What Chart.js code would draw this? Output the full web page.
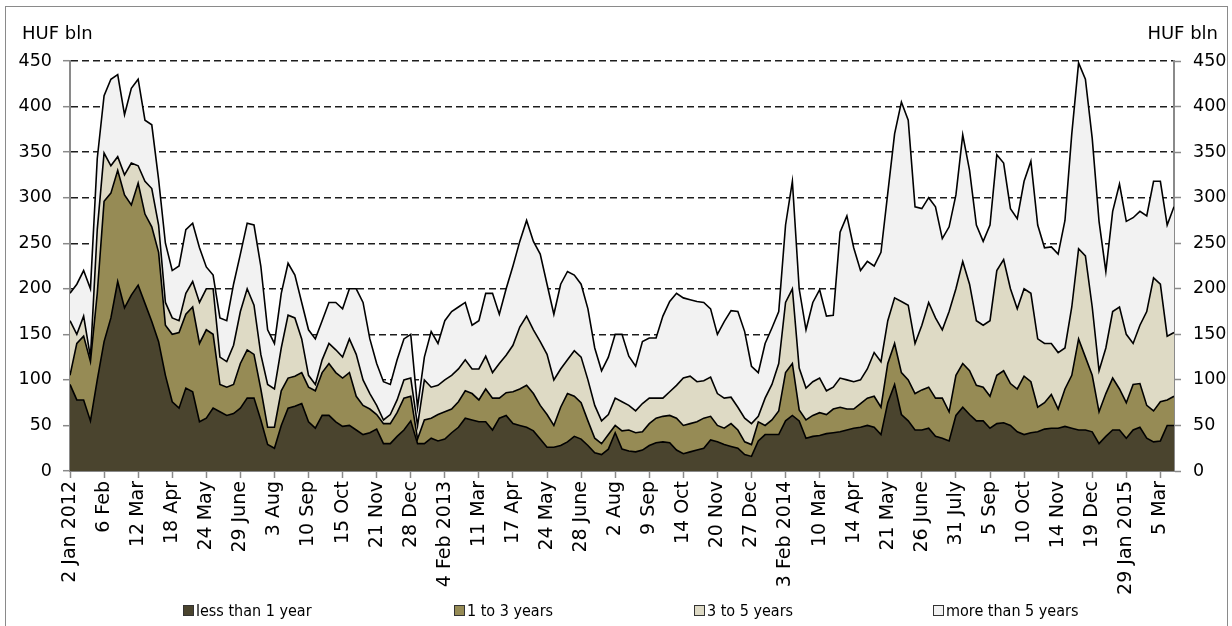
<!DOCTYPE html>
<html>
<head>
<meta charset="utf-8">
<script src="https://cdn.jsdelivr.net/npm/chart.js@4.4.1/dist/chart.umd.min.js"></script>
<style>
html,body{margin:0;padding:0;background:#fff;}
#wrap{position:relative;width:1232px;height:626px;overflow:hidden;font-family:"DejaVu Sans",sans-serif;}
#frame{position:absolute;left:5px;top:6px;width:1223px;height:660px;border:1.5px solid #8a8a8a;box-sizing:border-box;}
canvas{position:absolute;left:0;top:0;}
.unit{position:absolute;top:24px;font-size:18px;line-height:18px;color:#000;white-space:nowrap;}
.lg{position:absolute;top:602px;font-family:"DejaVu Sans Condensed","DejaVu Sans",sans-serif;font-size:16px;line-height:18px;color:#000;white-space:nowrap;}
.lg i{display:inline-block;width:9px;height:9px;border:1px solid #333;margin-right:2px;vertical-align:0px;}
</style>
</head>
<body>
<div id="wrap">
<div id="frame"></div>
<canvas id="c" width="1232" height="626"></canvas>
<div class="unit" style="left:22px">HUF bln</div>
<div class="unit" style="right:14px">HUF bln</div>
<div id="legend"></div>
</div>
<script>
// x-axis tick labels (one every 25 business days = every 5 points)
const tickLabels = ['2 Jan 2012','6 Feb','12 Mar','18 Apr','24 May','29 June','3 Aug','10 Sep','15 Oct','21 Nov','28 Dec',
  '4 Feb 2013','11 Mar','17 Apr','24 May','28 June','2 Aug','9 Sep','14 Oct','20 Nov','27 Dec',
  '3 Feb 2014','10 Mar','14 Apr','21 May','26 June','31 July','5 Sep','10 Oct','14 Nov','19 Dec',
  '29 Jan 2015','5 Mar'];

// series values (HUF bln), one point every 5 business days
const lessThan1Year = [
  95,78,78,55,100,142,168,208,179,193,
  204,184,164,142,105,76,69,91,87,54,
  58,69,65,61,63,69,80,80,56,29,
  25,50,69,71,74,54,47,61,61,54,
  49,50,45,40,42,46,30,30,38,45,
  55,30,30,36,33,35,42,48,58,56,
  54,54,45,58,61,52,50,48,44,35,
  26,26,28,32,38,35,28,20,18,24,
  42,24,22,21,23,28,31,32,31,23,
  19,21,23,25,34,32,29,27,25,18,
  16,33,40,40,40,55,61,55,36,38,
  39,41,42,43,45,47,48,50,48,40,
  75,95,62,55,45,45,47,38,36,33,
  61,70,62,55,55,47,52,53,50,43,
  40,42,43,46,47,47,49,47,45,45,
  43,30,38,45,45,36,45,48,36,32,
  33,50,50];
const oneToThreeYears = [
  10,62,70,65,95,154,137,122,124,99,
  112,98,104,98,55,74,83,81,93,86,
  97,81,30,31,32,49,53,48,34,19,
  23,38,33,33,34,38,41,47,57,54,
  53,58,37,32,26,16,22,22,26,35,
  27,5,26,22,29,30,26,28,30,29,
  24,36,35,22,25,35,40,46,41,37,
  36,24,42,53,44,40,27,16,12,16,
  8,20,23,21,20,24,27,28,30,35,
  31,31,31,33,26,18,18,25,20,14,
  13,21,10,16,26,53,57,12,20,23,
  25,21,26,27,23,21,26,30,34,30,
  43,45,46,45,40,44,45,42,44,32,
  44,48,48,39,37,35,53,57,46,47,
  64,56,27,29,37,21,41,58,100,80,
  62,35,47,57,45,39,50,48,36,34,
  43,28,32];
const threeToFiveYears = [
  60,10,22,5,70,53,30,15,22,46,
  19,36,42,30,25,18,13,23,28,45,
  45,50,30,28,43,57,67,54,38,47,
  42,47,69,64,37,13,7,14,22,25,
  23,37,46,28,17,10,4,10,14,20,
  20,15,44,34,32,35,37,36,34,27,
  34,36,28,38,41,51,68,76,70,70,
  66,50,42,37,50,50,45,36,25,22,
  30,32,27,24,31,28,22,20,26,36,
  52,52,44,41,43,35,33,29,25,26,
  23,6,30,39,52,77,82,46,35,37,
  38,26,24,32,32,30,26,32,48,50,
  47,50,78,82,55,71,93,88,75,110,
  95,112,95,71,68,83,115,122,104,88,
  96,97,75,65,56,62,45,75,99,111,
  75,45,50,73,90,75,45,64,103,146,
  129,70,70];
const moreThan5Years = [
  30,55,50,75,78,63,95,90,66,82,
  95,67,70,50,65,52,60,70,64,60,
  24,15,43,45,67,63,72,88,97,60,
  50,60,57,47,40,50,50,43,45,52,
  53,55,72,85,60,46,42,33,44,45,
  48,20,25,61,46,65,70,68,63,48,
  53,69,87,54,73,87,94,105,97,96,
  77,72,93,97,83,80,78,63,55,63,
  70,74,54,49,68,66,66,90,99,101,
  88,84,88,86,75,65,84,95,105,95,
  63,48,60,62,57,85,118,87,64,87,
  97,82,79,160,180,147,120,118,95,120,
  140,180,219,203,150,128,115,122,100,93,
  103,139,125,105,92,105,127,106,88,99,
  118,145,125,105,106,108,140,190,204,194,
  185,164,84,110,135,124,138,125,105,106,
  113,122,138];

const seriesNames = ['less than 1 year','1 to 3 years','3 to 5 years','more than 5 years'];
const seriesValues = [lessThan1Year, oneToThreeYears, threeToFiveYears, moreThan5Years];
const seriesColors = ['#4a442e','#968b55','#dedac5','#f2f2f2'];
const pointIndex = lessThan1Year.map((_, i) => i);

const tickFont = {family:'"DejaVu Sans", sans-serif', size:17.5};

const datasets = seriesValues.map((vals, k) => ({
  label: seriesNames[k],
  data: vals,
  backgroundColor: seriesColors[k],
  borderColor: '#000',
  borderWidth: 1.6,
  fill: k === 0 ? 'origin' : '-1',
  pointRadius: 0,
  tension: 0
}));

new Chart(document.getElementById('c'), {
  type: 'line',
  data: {labels: pointIndex, datasets},
  options: {
    responsive: false,
    animation: false,
    devicePixelRatio: 1,
    layout: {padding: {top: 61, left: 0, right: 0, bottom: 0}},
    plugins: {legend: {display: false}, tooltip: {enabled: false}},
    scales: {
      x: {
        type: 'linear',
        min: 0,
        max: pointIndex.length - 1,
        afterBuildTicks: s => { s.ticks = tickLabels.map((_, k) => ({value: k * 5})); },
        afterFit: s => { s.height = 155; },
        ticks: {
          autoSkip: false, minRotation: 90, maxRotation: 90, padding: 3, color: '#000',
          font: {family:'"DejaVu Sans", sans-serif', size: 19},
          callback: v => tickLabels[Math.round(v / 5)]
        },
        grid: {drawOnChartArea: false, drawTicks: true, tickLength: 7, tickColor: '#8a8a8a', tickWidth: 1.5},
        border: {color: '#8a8a8a', width: 2}
      },
      y: {
        position: 'left',
        stacked: true,
        min: 0, max: 450,
        afterFit: s => { s.width = 70; },
        ticks: {stepSize: 25, padding: 11, color: '#000', font: tickFont},
        grid: {
          color: c => (c.tick && c.tick.value === 0) ? 'rgba(0,0,0,0)' : '#1e1e1e',
          lineWidth: 1.4, tickColor: '#8a8a8a', tickLength: 7, tickWidth: 1.5, tickBorderDash: []
        },
        border: {color: '#8a8a8a', width: 2, dash: [7, 4]}
      },
      y2: {
        position: 'right',
        min: 0, max: 450,
        afterFit: s => { s.width = 58; },
        ticks: {stepSize: 25, padding: 12, color: '#000', font: tickFont},
        grid: {drawOnChartArea: false, tickColor: '#8a8a8a', tickLength: 7, tickWidth: 1.5},
        border: {color: '#8a8a8a', width: 2}
      }
    }
  }
});

// legend (real text)
const legendLeft = [183, 454, 694, 933];
const lg = document.getElementById('legend');
seriesNames.forEach((name, k) => {
  const d = document.createElement('div');
  d.className = 'lg';
  d.style.left = legendLeft[k] + 'px';
  const b = document.createElement('i');
  b.style.background = seriesColors[k];
  d.appendChild(b);
  d.appendChild(document.createTextNode(name));
  lg.appendChild(d);
});
</script>
</body>
</html>
